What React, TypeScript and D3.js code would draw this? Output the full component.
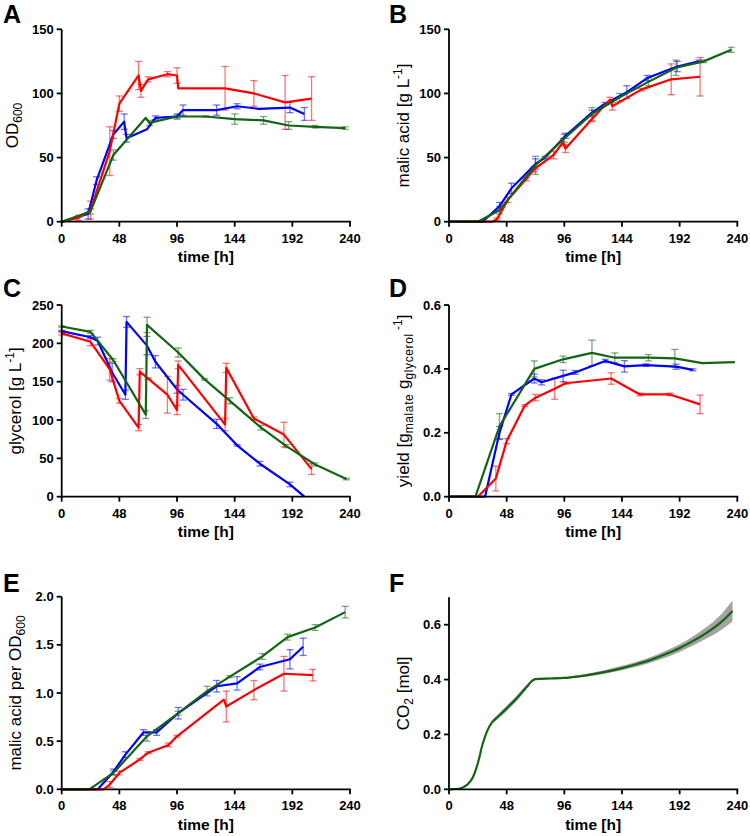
import React from "react";
import * as d3 from "d3";

const RED = "#ff0000";
const BLUE = "#0000ff";
const GREEN = "#136413";
const FONT = "'Liberation Sans', Arial, Helvetica, sans-serif";

const timeTicks = [0, 48, 96, 144, 192, 240];

// ---------- Panel A : OD600 ----------
const redA_t = [0, 14, 24, 40, 48, 64, 66, 72, 88, 96, 97, 136, 160, 186, 208];
const redA_v = [0, 3, 9, 55, 92, 114, 102, 111, 115, 114, 104, 104, 100, 93, 96];
const redA_e = [0, 2, 7, 19, 6, 11, 5, 2, 2, 6, 0, 17, 10, 21, 17];
const blueA_t = [0, 22, 29, 43, 52, 54, 71, 78, 96, 101, 129, 146, 164, 190, 202];
const blueA_v = [0, 6, 32, 68, 78, 65, 72, 81, 82, 87, 87, 90, 88, 89, 84];
const blueA_e = [0, 4, 3, 3, 6, 3, 0, 1.5, 2, 4, 4, 2, 0, 4, 5];
const greenA_t = [0, 24, 43, 70, 73, 96, 120, 144, 168, 189, 211, 236];
const greenA_v = [0, 8, 52, 81, 77, 82, 82, 80, 79, 75, 74, 73];
const greenA_e = [0, 2, 4, 0, 2, 1, 0.5, 4, 3, 3, 1, 1];

// ---------- Panel B : malic acid ----------
const redB_t = [0, 36, 40, 49, 64, 71, 87, 95, 97, 119, 134, 136, 160, 185, 209];
const redB_v = [0, 0, 2, 17, 33, 41, 52, 62, 57, 80, 95, 90, 103, 111, 113];
const redB_e = [0, 0, 1, 2, 1, 2, 3, 3, 3, 2, 2, 3, 1, 12, 15];
const blueB_t = [0, 28, 42, 52, 72, 80, 97, 119, 130, 148, 165, 190, 208];
const blueB_v = [0, 0, 12, 26, 45, 50, 67, 85, 92, 101, 112, 121, 125];
const blueB_e = [0, 0, 3, 4, 4, 1, 2, 2, 1, 5, 2, 4, 1];
const greenB_t = [0, 24, 42, 72, 96, 119, 142, 166, 189, 212, 235];
const greenB_v = [0, 0, 9, 44, 65, 84, 97, 109, 120, 125, 134];
const greenB_e = [0, 0, 3, 7, 3, 5, 3, 3, 6, 1, 2];

// ---------- Panel C : glycerol ----------
const redC_t = [0, 24, 40, 48, 64, 65, 72, 88, 96, 97, 136, 137, 160, 185, 208];
const redC_v = [213, 202, 166, 125, 90, 163, 154, 133, 113, 172, 94, 168, 102, 81, 36];
const redC_e = [2, 5, 14, 3, 4, 4, 1, 24, 6, 5, 8, 6, 2, 16, 7];
const blueC_t = [0, 24, 30, 42, 53, 54, 71, 78, 96, 101, 129, 146, 165, 190, 202];
const blueC_v = [216, 208, 203, 162, 133, 228, 197, 176, 140, 133, 95, 67, 43, 16, 0];
const blueC_e = [1, 2, 5, 12, 6, 7, 12, 8, 5, 7, 6, 1, 3, 3, 0];
const greenC_t = [0, 24, 43, 70, 71, 97, 119, 140, 166, 187, 211, 237];
const greenC_v = [222, 215, 178, 107, 224, 188, 153, 125, 90, 66, 42, 23];
const greenC_e = [1, 2, 2, 5, 10, 6, 1, 4, 3, 2, 2, 1];

// ---------- Panel D : yield ----------
const redD_t = [0, 24, 39, 48, 63, 72, 88, 97, 135, 159, 184, 209];
const redD_v = [0, 0, 0.057, 0.174, 0.285, 0.31, 0.338, 0.355, 0.37, 0.32, 0.32, 0.289];
const redD_e = [0, 0, 0.039, 0.008, 0.003, 0.01, 0.033, 0.003, 0.018, 0.004, 0.004, 0.029];
const blueD_t = [0, 30, 42, 52, 71, 77, 95, 105, 130, 146, 164, 189, 203];
const blueD_v = [0, 0, 0.2, 0.32, 0.37, 0.358, 0.378, 0.389, 0.425, 0.408, 0.412, 0.407, 0.397];
const blueD_e = [0, 0, 0.02, 0.003, 0.014, 0.008, 0.018, 0.006, 0.005, 0.018, 0.004, 0.008, 0.003];
const greenD_t = [0, 22, 42, 71, 95, 119, 138, 166, 188, 211, 238];
const greenD_v = [0, 0, 0.22, 0.4, 0.43, 0.45, 0.435, 0.435, 0.433, 0.418, 0.421];
const greenD_e = [0, 0, 0.04, 0.025, 0.01, 0.04, 0.015, 0.01, 0.028, 0, 0];

// ---------- Panel E : malic acid per OD600 ----------
const redE_t = [0, 35, 40, 48, 65, 72, 89, 96, 135, 137, 160, 185, 209];
const redE_v = [0, 0, 0.05, 0.17, 0.31, 0.38, 0.46, 0.55, 0.93, 0.86, 1.03, 1.2, 1.185];
const redE_e = [0, 0, 0.03, 0.02, 0.01, 0.01, 0.02, 0.01, 0, 0.16, 0.1, 0.18, 0.06];
const blueE_t = [0, 30, 43, 53, 68, 79, 97, 129, 146, 165, 190, 201];
const blueE_v = [0, 0, 0.18, 0.36, 0.59, 0.59, 0.79, 1.07, 1.1, 1.27, 1.35, 1.48];
const blueE_e = [0, 0, 0.03, 0.03, 0.03, 0.03, 0.06, 0.06, 0.07, 0.03, 0.1, 0.09];
const greenE_t = [0, 23, 43, 71, 97, 121, 140, 167, 188, 211, 236];
const greenE_v = [0, 0, 0.17, 0.55, 0.79, 1.02, 1.17, 1.38, 1.58, 1.68, 1.84];
const greenE_e = [0, 0, 0.02, 0.05, 0.02, 0.05, 0.01, 0.03, 0.03, 0.03, 0.06];

// ---------- Panel F : CO2 ----------
const co2_t = [0, 8, 12, 16, 20, 24, 28, 32, 36, 40, 48, 56, 64, 70, 72, 84, 96, 108, 120, 132, 144, 156, 168, 180, 192, 204, 216, 228, 236];
const co2_v = [0, 0.002, 0.008, 0.02, 0.045, 0.095, 0.165, 0.215, 0.245, 0.262, 0.295, 0.33, 0.37, 0.398, 0.402, 0.404, 0.406, 0.412, 0.42, 0.43, 0.442, 0.456, 0.472, 0.492, 0.515, 0.543, 0.575, 0.615, 0.65];
const co2_sd = [0, 0, 0, 0, 0.002, 0.003, 0.004, 0.004, 0.005, 0.008, 0.01, 0.01, 0.008, 0.004, 0.003, 0.003, 0.003, 0.004, 0.006, 0.007, 0.008, 0.009, 0.01, 0.012, 0.014, 0.017, 0.022, 0.03, 0.038];

type Series = { t: number[]; v: number[]; e: number[]; color: string };

type PanelProps = {
  letter: string;
  lx: number;
  ly: number;
  x0: number;
  x1: number;
  yTop: number;
  yBot: number;
  yDomain: [number, number];
  yTicks: number[];
  yFmt: (n: number) => string;
  series: Series[];
  title: React.ReactNode;
  titleOffset: number;
  band?: { t: number[]; v: number[]; sd: number[] };
};

const TITLE_SIZE = 17;
const SMALL = 12;

function Panel(p: PanelProps) {
  const x = d3.scaleLinear().domain([0, 240]).range([p.x0, p.x1]);
  const y = d3.scaleLinear().domain(p.yDomain).range([p.yBot, p.yTop]);
  const cap = 3.5;
  const axisW = 1.8;
  return (
    <g>
      <text x={p.lx} y={p.ly} fontSize={25} fontWeight="bold" fontFamily={FONT}>
        {p.letter}
      </text>
      {p.band && (
        <path
          d={
            d3
              .area<number>()
              .x((_, i) => x(p.band!.t[i]))
              .y0((_, i) => y(p.band!.v[i] - p.band!.sd[i]))
              .y1((_, i) => y(p.band!.v[i] + p.band!.sd[i]))
              .curve(d3.curveMonotoneX)(p.band.t) || ""
          }
          fill="#a3a3a3"
        />
      )}
      {p.series.map((s, si) => (
        <g key={"e" + si} stroke={s.color} strokeOpacity={0.55} strokeWidth={1.3} fill="none">
          {s.t.map((t, i) =>
            s.e[i] > 0 ? (
              <g key={i}>
                <line x1={x(t)} x2={x(t)} y1={y(s.v[i] - s.e[i])} y2={y(s.v[i] + s.e[i])} />
                <line x1={x(t) - cap} x2={x(t) + cap} y1={y(s.v[i] - s.e[i])} y2={y(s.v[i] - s.e[i])} />
                <line x1={x(t) - cap} x2={x(t) + cap} y1={y(s.v[i] + s.e[i])} y2={y(s.v[i] + s.e[i])} />
              </g>
            ) : null
          )}
        </g>
      ))}
      {p.series.map((s, si) => (
        <path
          key={"l" + si}
          d={
            (p.band
              ? d3.line<number>().x((_, i) => x(s.t[i])).y((_, i) => y(s.v[i])).curve(d3.curveMonotoneX)
              : d3.line<number>().x((_, i) => x(s.t[i])).y((_, i) => y(s.v[i])))(s.t) || ""
          }
          fill="none"
          stroke={s.color}
          strokeWidth={2.2}
          strokeLinejoin="round"
        />
      ))}
      {/* axes */}
      <line x1={p.x0} x2={p.x1 + axisW / 2} y1={p.yBot} y2={p.yBot} stroke="#000" strokeWidth={axisW} />
      <line x1={p.x0} x2={p.x0} y1={p.yBot + axisW / 2} y2={y(p.yDomain[1])} stroke="#000" strokeWidth={axisW} />
      {timeTicks.map((t) => (
        <g key={"xt" + t}>
          <line x1={x(t)} x2={x(t)} y1={p.yBot} y2={p.yBot + 5} stroke="#000" strokeWidth={axisW} />
          <text x={x(t)} y={p.yBot + 21} textAnchor="middle" fontSize={13} fontWeight="bold" fontFamily={FONT}>
            {t}
          </text>
        </g>
      ))}
      {p.yTicks.map((v) => (
        <g key={"yt" + v}>
          <line x1={p.x0 - 5} x2={p.x0} y1={y(v)} y2={y(v)} stroke="#000" strokeWidth={axisW} />
          <text x={p.x0 - 8} y={y(v) + 4.6} textAnchor="end" fontSize={13} fontWeight="bold" fontFamily={FONT}>
            {p.yFmt(v)}
          </text>
        </g>
      ))}
      <text
        x={(p.x0 + p.x1) / 2}
        y={p.yBot + 40.5}
        textAnchor="middle"
        fontSize={15.5}
        fontWeight="bold"
        fontFamily={FONT}
      >
        time [h]
      </text>
      <text
        transform={`translate(${p.x0 - p.titleOffset},${(p.yTop + p.yBot) / 2}) rotate(-90)`}
        textAnchor="middle"
        fontSize={TITLE_SIZE}
        fontFamily={FONT}
      >
        {p.title}
      </text>
    </g>
  );
}

export default function App() {
  const intF = d3.format("d");
  const decF = d3.format(".1f");
  const L = { x0: 61.7, x1: 350 };
  const R = { x0: 449, x1: 737.3 };
  return (
    <svg
      width={750}
      height={836}
      style={{ position: "absolute", left: 0, top: 0, background: "#fff" }}
    >
      <Panel
        letter="A" lx={3} ly={23} {...L} yTop={29.3} yBot={221.7}
        yDomain={[0, 150]} yTicks={[0, 50, 100, 150]} yFmt={intF}
        series={[
          { t: blueA_t, v: blueA_v, e: blueA_e, color: BLUE },
          { t: redA_t, v: redA_v, e: redA_e, color: RED },
          { t: greenA_t, v: greenA_v, e: greenA_e, color: GREEN },
        ]}
        titleOffset={44}
        title={<>OD<tspan dy={4} fontSize={SMALL}>600</tspan></>}
      />
      <Panel
        letter="B" lx={389} ly={23} {...R} yTop={29.3} yBot={221.7}
        yDomain={[0, 150]} yTicks={[0, 50, 100, 150]} yFmt={intF}
        series={[
          { t: blueB_t, v: blueB_v, e: blueB_e, color: BLUE },
          { t: redB_t, v: redB_v, e: redB_e, color: RED },
          { t: greenB_t, v: greenB_v, e: greenB_e, color: GREEN },
        ]}
        titleOffset={40.5}
        title={<>malic acid [g L<tspan dy={-7} fontSize={SMALL}>-1</tspan><tspan dy={7}>]</tspan></>}
      />
      <Panel
        letter="C" lx={3} ly={297} {...L} yTop={305} yBot={496.7}
        yDomain={[0, 250]} yTicks={[0, 50, 100, 150, 200, 250]} yFmt={intF}
        series={[
          { t: blueC_t, v: blueC_v, e: blueC_e, color: BLUE },
          { t: redC_t, v: redC_v, e: redC_e, color: RED },
          { t: greenC_t, v: greenC_v, e: greenC_e, color: GREEN },
        ]}
        titleOffset={40.5}
        title={<>glycerol [g L<tspan dy={-7} fontSize={SMALL}>-1</tspan><tspan dy={7}>]</tspan></>}
      />
      <Panel
        letter="D" lx={389} ly={297} {...R} yTop={305} yBot={496.7}
        yDomain={[0, 0.6]} yTicks={[0, 0.2, 0.4, 0.6]} yFmt={decF}
        series={[
          { t: blueD_t, v: blueD_v, e: blueD_e, color: BLUE },
          { t: redD_t, v: redD_v, e: redD_e, color: RED },
          { t: greenD_t, v: greenD_v, e: greenD_e, color: GREEN },
        ]}
        titleOffset={40.5}
        title={
          <>
            yield [g<tspan dy={4} fontSize={SMALL} letterSpacing={0.6}>malate</tspan>
            <tspan dy={-4}> g</tspan>
            <tspan dy={4} fontSize={SMALL} letterSpacing={0.6}>glycerol</tspan>
            <tspan dy={-11} fontSize={SMALL}> -1</tspan>
            <tspan dy={7}>]</tspan>
          </>
        }
      />
      <Panel
        letter="E" lx={3} ly={592} {...L} yTop={596.7} yBot={789.3}
        yDomain={[0, 2]} yTicks={[0, 0.5, 1, 1.5, 2]} yFmt={decF}
        series={[
          { t: blueE_t, v: blueE_v, e: blueE_e, color: BLUE },
          { t: redE_t, v: redE_v, e: redE_e, color: RED },
          { t: greenE_t, v: greenE_v, e: greenE_e, color: GREEN },
        ]}
        titleOffset={40.5}
        title={<>malic acid per OD<tspan dy={4} fontSize={SMALL}>600</tspan></>}
      />
      <Panel
        letter="F" lx={389} ly={592} {...R} yTop={597.3} yBot={789.3}
        yDomain={[0, 0.7]} yTicks={[0, 0.2, 0.4, 0.6]} yFmt={decF}
        band={{ t: co2_t, v: co2_v, sd: co2_sd }}
        series={[{ t: co2_t, v: co2_v, e: co2_t.map(() => 0), color: GREEN }]}
        titleOffset={40.5}
        title={<>CO<tspan dy={4} fontSize={SMALL}>2</tspan><tspan dy={-4}> [mol]</tspan></>}
      />
    </svg>
  );
}
